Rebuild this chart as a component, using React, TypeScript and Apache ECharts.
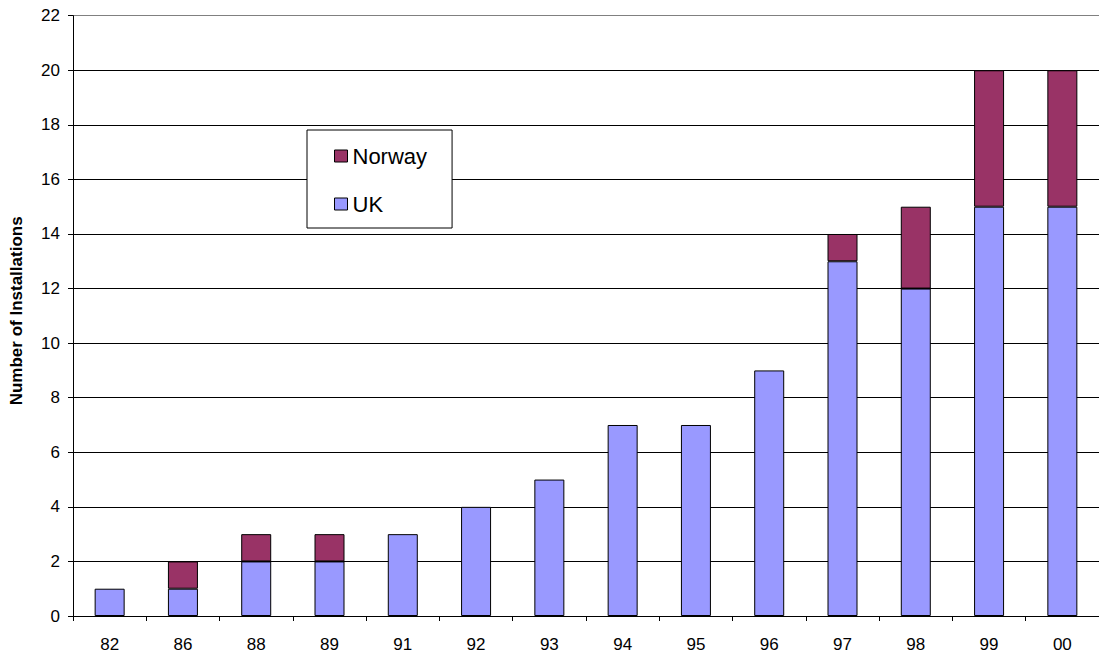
import React, { useEffect, useRef } from "react";
import * as echarts from "echarts";

const categories = ["82", "86", "88", "89", "91", "92", "93", "94", "95", "96", "97", "98", "99", "00"];
const ukValues = [1, 1, 2, 2, 3, 4, 5, 7, 7, 9, 13, 12, 15, 15];
const norwayValues = [null, 1, 1, 1, null, null, null, null, null, null, 1, 3, 5, 5];
const yTicksMax = 22;
const yInterval = 2;

const FONT = "Arial, 'Liberation Sans', sans-serif";

export default function App() {
  const ref = useRef<HTMLDivElement>(null);
  useEffect(() => {
    if (!ref.current) return;
    const chart = echarts.init(ref.current, undefined, { renderer: "svg" });
    const gridColors: string[] = [];
    for (let v = 0; v <= yTicksMax; v += yInterval) gridColors.push(v === yTicksMax ? "#808080" : "#000000");
    chart.setOption({
      animation: false,
      backgroundColor: "#ffffff",
      textStyle: { fontFamily: FONT },
      grid: { left: 73, top: 15.7, width: 1029, bottom: 41, containLabel: false },
      legend: {
        orient: "vertical",
        left: 307,
        top: 130,
        data: ["Norway", "UK"],
        icon: "rect",
        backgroundColor: "#ffffff",
        borderColor: "#000000",
        borderWidth: 1,
        borderRadius: 0,
        padding: [15, 25, 13, 27],
        itemWidth: 13,
        itemHeight: 12,
        itemGap: 26,
        itemStyle: { borderColor: "#000", borderWidth: 1 },
        textStyle: { fontSize: 22, color: "#000", fontFamily: FONT, padding: [5, 0, 0, 0] },
      },
      xAxis: {
        type: "category",
        data: categories,
        axisLine: { lineStyle: { color: "#000", width: 1 } },
        axisTick: { show: true, alignWithLabel: false, length: 5, lineStyle: { color: "#000" } },
        axisLabel: { color: "#000", fontSize: 17, margin: 20, fontFamily: FONT },
        splitLine: { show: false },
      },
      yAxis: {
        type: "value",
        min: 0,
        max: yTicksMax,
        interval: yInterval,
        name: "Number of Installations",
        nameLocation: "middle",
        nameGap: 48,
        nameTextStyle: { fontSize: 17, fontWeight: "bold", color: "#000", fontFamily: FONT, padding: [0, 0, 0, 10] },
        axisLine: { show: true, lineStyle: { color: "#000", width: 1 } },
        axisTick: { show: true, length: 5, lineStyle: { color: "#000" } },
        axisLabel: { color: "#000", fontSize: 17, margin: 13, fontFamily: FONT },
        splitLine: { show: true, lineStyle: { color: gridColors, width: 1 } },
      },
      series: [
        {
          name: "UK",
          type: "bar",
          stack: "total",
          data: ukValues,
          barWidth: 30,
          itemStyle: { color: "#9999FF", borderColor: "#000", borderWidth: 1 },
        },
        {
          name: "Norway",
          type: "bar",
          stack: "total",
          data: norwayValues,
          barWidth: 30,
          itemStyle: { color: "#993366", borderColor: "#000", borderWidth: 1 },
        },
      ],
    });
    return () => chart.dispose();
  }, []);
  return (
    <div
      ref={ref}
      style={{ position: "fixed", left: 0, top: 0, width: 1099, height: 657, background: "#fff" }}
    />
  );
}
